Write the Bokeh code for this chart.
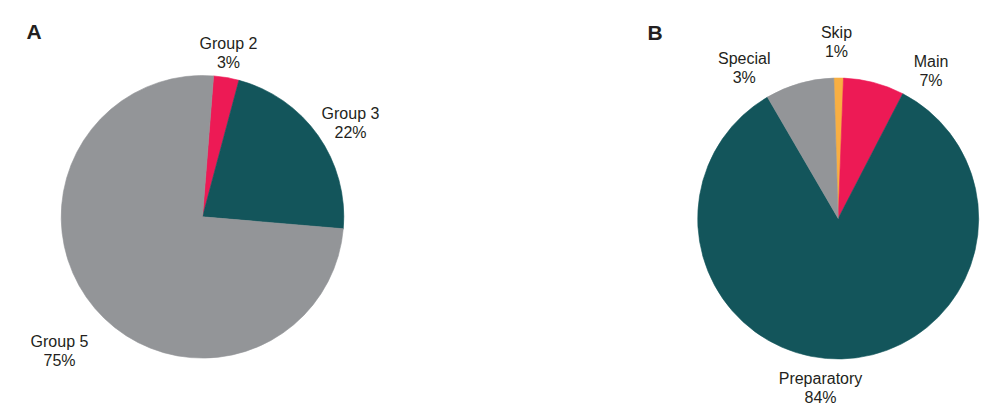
import math
from bokeh.plotting import figure
from bokeh.models import Range1d, ColumnDataSource
from bokeh.core.properties import value
from bokeh.embed import file_html
from bokeh.resources import INLINE

# ---- data ----
a_names = ["Group 2", "Group 3", "Group 5"]
a_values = [2.9, 22.2, 74.9]
a_labels = ["3%", "22%", "75%"]
a_colors = ["#ED1A55", "#13555B", "#939598"]

b_names = ["Skip", "Main", "Preparatory", "Special"]
b_values = [1.1, 7.0, 84.0, 7.9]
b_labels = ["1%", "7%", "84%", "3%"]
b_colors = ["#F8AF42", "#ED1A55", "#13555B", "#939598"]

# ---- layout (picture pixel coords; y measured from top) ----
W, H = 986, 414
LABEL_SHIFT = 5     # compensate renderer baseline offset
PANEL_SHIFT = 8

pies = [
    dict(cx=202.0, cy=216.3, r=141.3, start=4.5, names=a_names, values=a_values,
         labels=a_labels, colors=a_colors,
         label_pos=[(228, 47.7), (350, 117.7), (59, 346)], panel="A", panel_pos=(26, 38.5)),
    dict(cx=837.7, cy=218.0, r=140.5, start=-1.8, names=b_names, values=b_values,
         labels=b_labels, colors=b_colors,
         label_pos=[(836, 37.3), (930.5, 66), (820, 383.3), (743.7, 62.7)], panel="B", panel_pos=(647, 40)),
]

p = figure(width=W, height=H, x_range=Range1d(0, W), y_range=Range1d(0, H),
           output_backend="svg", toolbar_location=None, min_border=0)
p.axis.visible = False
p.grid.visible = False
p.outline_line_color = None
p.background_fill_color = "white"
p.border_fill_color = "white"

FONT = value("Liberation Sans")
TXT = "#231F20"

for pie in pies:
    total = sum(pie["values"])
    theta = pie["start"]
    starts, ends = [], []
    for v in pie["values"]:
        t1 = theta
        t2 = theta + v / total * 360.0
        starts.append(math.radians(90 - t2))
        ends.append(math.radians(90 - t1))
        theta = t2
    n = len(pie["values"])
    src = ColumnDataSource(dict(x=[pie["cx"]] * n, y=[H - pie["cy"]] * n,
                                s=starts, e=ends, c=pie["colors"]))
    p.wedge(x="x", y="y", radius=pie["r"], start_angle="s", end_angle="e",
            fill_color="c", line_color="c", line_width=0.6, source=src)

    lx = [lp[0] for lp in pie["label_pos"]]
    ly1 = [H - lp[1] + LABEL_SHIFT for lp in pie["label_pos"]]
    ly2 = [H - lp[1] - 19 + LABEL_SHIFT for lp in pie["label_pos"]]
    p.text(x=lx, y=ly1, text=pie["names"], text_align="center", text_baseline="alphabetic",
           text_font=FONT, text_font_size="16px", text_color=TXT)
    p.text(x=lx, y=ly2, text=pie["labels"], text_align="center", text_baseline="alphabetic",
           text_font=FONT, text_font_size="16px", text_color=TXT)
    p.text(x=[pie["panel_pos"][0]], y=[H - pie["panel_pos"][1] + PANEL_SHIFT], text=[pie["panel"]],
           text_align="left", text_baseline="alphabetic", text_font=FONT,
           text_font_size="21px", text_font_style="bold", text_color=TXT)

open("out.html", "w").write(file_html(p, INLINE))
